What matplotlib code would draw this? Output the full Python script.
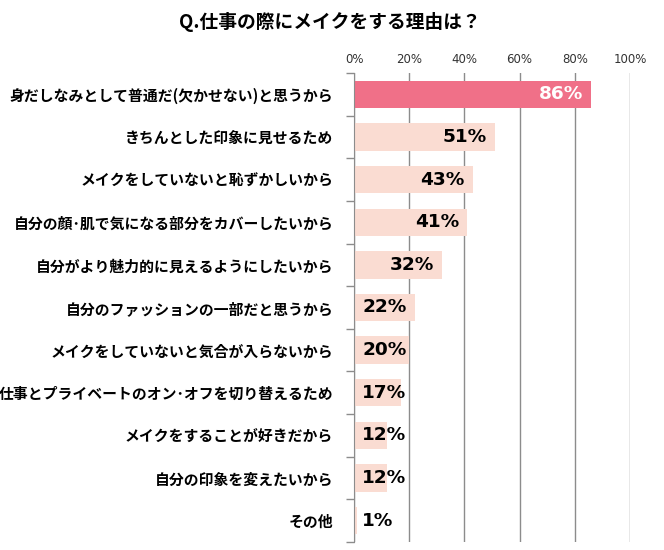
import matplotlib.pyplot as plt

plt.rcParams['font.family'] = ['Noto Sans CJK JP', 'DejaVu Sans']

title = 'Q.仕事の際にメイクをする理由は？'
reasons = ['身だしなみとして普通だ(欠かせない)と思うから',
           'きちんとした印象に見せるため',
           'メイクをしていないと恥ずかしいから',
           '自分の顔･肌で気になる部分をカバーしたいから',
           '自分がより魅力的に見えるようにしたいから',
           '自分のファッションの一部だと思うから',
           'メイクをしていないと気合が入らないから',
           '仕事とプライベートのオン･オフを切り替えるため',
           'メイクをすることが好きだから',
           '自分の印象を変えたいから',
           'その他']
percents = [86, 51, 43, 41, 32, 22, 20, 17, 12, 12, 1]
xticks = [0, 20, 40, 60, 80, 100]

fig = plt.figure(figsize=(6.64, 5.5), dpi=100)
ax = fig.add_axes([354/664, 8/550, 276/664, 469/550])

n = len(percents)
ys = list(range(n))
colors = ['#F07088'] + ['#FADCD2'] * (n - 1)
ax.barh(ys, percents, height=0.64, color=colors, zorder=2)

for y, v in zip(ys, percents):
    col = 'white' if y == 0 else 'black'
    if v >= 25:
        ax.text(v - 2.9, y, f'{v}%', ha='right', va='center', fontsize=13.3,
                fontweight='bold', color=col, family='DejaVu Sans', zorder=3)
    else:
        ax.text(2.9, y, f'{v}%', ha='left', va='center', fontsize=13.3,
                fontweight='bold', color=col, family='DejaVu Sans', zorder=3)

ax.set_xlim(0, 100)
ax.set_ylim(n - 0.5, -0.5)
ax.set_xticks(xticks)
ax.set_xticklabels([f'{t}%' for t in xticks], family='DejaVu Sans', fontsize=8.5, color='#333333')
ax.xaxis.tick_top()
ax.tick_params(axis='x', length=0, pad=5)
ax.grid(axis='x', color='#8c8c8c', linewidth=1, zorder=0)

ax.set_yticks([y - 0.5 for y in ys] + [n - 0.5])
ax.set_yticklabels([])
ax.set_yticks(ys, minor=True)
ax.set_yticklabels(reasons, minor=True, fontsize=10.7, fontweight='bold')
ax.tick_params(axis='y', which='major', length=6, color='#8c8c8c', width=1)
ax.tick_params(axis='y', which='minor', length=0, pad=15)

for s in ['top', 'right', 'bottom']:
    ax.spines[s].set_visible(False)
ax.spines['left'].set_color('#8c8c8c')

fig.text(330/664, 1 - 22/550, title, ha='center', va='center', fontsize=13.5, fontweight='bold')

fig.savefig('out.png', dpi=100)
